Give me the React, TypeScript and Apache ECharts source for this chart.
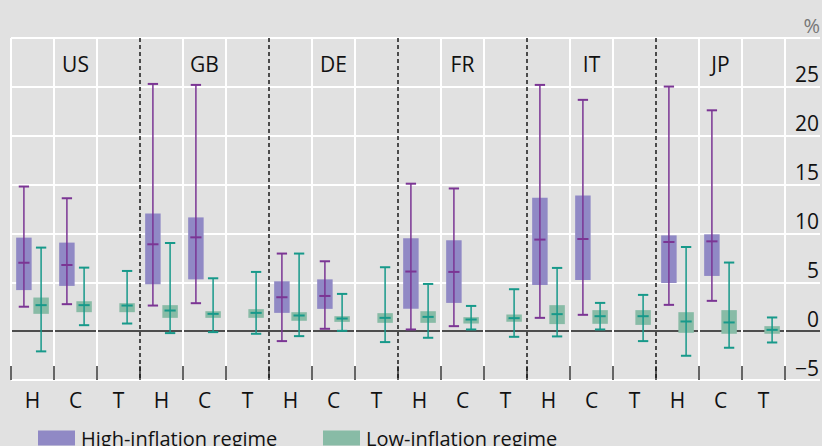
import React, { useEffect, useRef } from "react";
import * as echarts from "echarts";

const countries = ["US", "GB", "DE", "FR", "IT", "JP"];
const regimes = ["H", "C", "T"];
const categories = countries.flatMap(() => regimes);

// [category index, low whisker, box bottom, median, box top, high whisker]
const highInflation = [
  [0, 2.5, 4.2, 7.0, 9.57, 14.8],
  [1, 2.76, 4.63, 6.77, 9.06, 13.6],
  [3, 2.62, 4.8, 8.89, 12.05, 25.3],
  [4, 2.86, 5.3, 9.6, 11.64, 25.2],
  [6, -1.02, 1.87, 3.47, 5.1, 7.94],
  [7, 0.24, 2.28, 3.6, 5.3, 7.15],
  [9, 0.17, 2.28, 6.1, 9.5, 15.09],
  [10, 0.51, 2.89, 6.06, 9.3, 14.6],
  [12, 1.36, 4.73, 9.37, 13.66, 25.2],
  [13, 1.67, 5.24, 9.43, 13.89, 23.67],
  [15, 2.69, 4.93, 9.12, 9.8, 25.03],
  [16, 3.1, 5.65, 9.19, 9.91, 22.6],
];

const lowInflation = [
  [0, -2.07, 1.77, 2.66, 3.44, 8.55],
  [1, 0.61, 1.94, 2.66, 3.06, 6.5],
  [2, 0.78, 1.94, 2.62, 2.86, 6.16],
  [3, -0.2, 1.36, 2.11, 2.66, 9.02],
  [4, -0.1, 1.36, 1.77, 2.04, 5.41],
  [5, -0.27, 1.36, 1.87, 2.25, 6.06],
  [6, -0.51, 1.06, 1.6, 1.94, 7.94],
  [7, 0.03, 0.95, 1.29, 1.53, 3.81],
  [8, -1.12, 0.85, 1.36, 1.84, 6.54],
  [9, -0.68, 0.85, 1.46, 2.04, 4.83],
  [10, 0.17, 0.78, 1.19, 1.43, 2.58],
  [11, -0.58, 0.95, 1.33, 1.7, 4.29],
  [12, -0.54, 0.72, 1.74, 2.66, 6.47],
  [13, 0.17, 0.75, 1.53, 2.15, 2.89],
  [14, -1.02, 0.64, 1.53, 2.15, 3.71],
  [15, -2.52, -0.17, 0.99, 1.94, 8.61],
  [16, -1.7, -0.27, 0.89, 2.15, 7.02],
  [17, -1.16, -0.27, 0.13, 0.51, 1.4],
];

const countryStarts = countries.map((_, i) => [i * regimes.length, 0]).slice(1);

const FONT = "'Open Sans', sans-serif";
const HIGH_FILL = "#9089c5";
const HIGH_LINE = "#7b3594";
const LOW_FILL = "#88bba6";
const LOW_LINE = "#17998a";
const BG = "#e1e1e1";

const makeBoxRenderer =
  (offset: number, fill: string, stroke: string) => (params: any, api: any) => {
    const idx = api.value(0);
    const band = api.size([1, 0])[0];
    const cx = api.coord([idx, 0])[0] + offset * band;
    const y = (k: number) => api.coord([idx, api.value(k)])[1];
    const yLow = y(1);
    const yQ1 = y(2);
    const yMed = y(3);
    const yQ3 = y(4);
    const yHigh = y(5);
    const bw = band * 0.36;
    const cap = band * 0.12;
    const med = band * 0.13;
    return {
      type: "group",
      children: [
        {
          type: "rect",
          shape: { x: cx - bw / 2, y: yQ3, width: bw, height: yQ1 - yQ3 },
          style: { fill },
        },
        {
          type: "line",
          shape: { x1: cx, y1: yHigh, x2: cx, y2: yLow },
          style: { stroke, lineWidth: 1.5 },
        },
        {
          type: "line",
          shape: { x1: cx - cap, y1: yHigh, x2: cx + cap, y2: yHigh },
          style: { stroke, lineWidth: 2 },
        },
        {
          type: "line",
          shape: { x1: cx - cap, y1: yLow, x2: cx + cap, y2: yLow },
          style: { stroke, lineWidth: 2 },
        },
        {
          type: "line",
          shape: { x1: cx - med, y1: yMed, x2: cx + med, y2: yMed },
          style: { stroke, lineWidth: 2 },
        },
      ],
    };
  };

const ySplitColors = ["#ffffff", "#4d4d4d", "#ffffff", "#ffffff", "#ffffff", "#ffffff", "#ffffff", "#ffffff"];

export default function App() {
  const ref = useRef<HTMLDivElement>(null);
  useEffect(() => {
    document.body.style.margin = "0";
    const chart = echarts.init(ref.current!, null, { renderer: "svg" });
    const legendBase = {
      top: 422,
      itemWidth: 37,
      itemHeight: 15,
      icon: "rect",
      selectedMode: false,
      textStyle: { fontSize: 20, lineHeight: 22, color: "#111", fontFamily: FONT, padding: [0, 0, 0, 1] },
    };
    const option: any = {
      animation: false,
      backgroundColor: BG,
      textStyle: { fontFamily: FONT },
      grid: [
        { left: 11, right: 37, top: 38, bottom: 66 },
        { left: 785, right: 0, top: 38, bottom: 66 },
      ],
      legend: [
        {
          ...legendBase,
          left: 33,
          data: [{ name: "High-inflation regime", itemStyle: { color: HIGH_FILL } }],
        },
        {
          ...legendBase,
          left: 318,
          data: [{ name: "Low-inflation regime", itemStyle: { color: LOW_FILL } }],
        },
      ],
      xAxis: [
        {
          type: "category",
          gridIndex: 0,
          data: categories,
          position: "bottom",
          axisLine: { show: false, onZero: false },
          axisTick: {
            show: true,
            inside: true,
            length: 14,
            interval: 0,
            lineStyle: { color: "#333", width: 1.5 },
          },
          axisLabel: { interval: 0, margin: 9, fontSize: 21, color: "#111", fontFamily: FONT },
          splitLine: {
            show: true,
            interval: (i: number) => i % regimes.length !== 0 || i === 0,
            lineStyle: { color: "#ffffff", width: 2 },
          },
        },
        {
          type: "category",
          gridIndex: 0,
          data: countries,
          position: "top",
          axisLine: { show: false, onZero: false },
          axisTick: { show: false },
          axisLabel: { inside: true, margin: 15, fontSize: 21, color: "#111", fontFamily: FONT },
          splitLine: { show: false },
        },
        {
          type: "value",
          gridIndex: 1,
          show: false,
          min: 0,
          max: 1,
        },
      ],
      yAxis: [
        {
          type: "value",
          gridIndex: 0,
          min: -5,
          max: 30,
          interval: 5,
          axisLine: { show: false, onZero: false },
          axisTick: { show: false },
          axisLabel: { show: false },
          splitLine: { show: true, lineStyle: { color: ySplitColors, width: 2 } },
        },
        {
          type: "value",
          gridIndex: 1,
          min: -5,
          max: 30,
          interval: 5,
          position: "right",
          name: "%",
          nameLocation: "end",
          nameGap: 3,
          nameTextStyle: {
            fontSize: 20,
            color: "#777",
            align: "right",
            verticalAlign: "bottom",
            fontFamily: FONT,
          },
          axisLine: { show: false, onZero: false },
          axisTick: { show: false },
          axisLabel: {
            inside: true,
            margin: 1,
            fontSize: 21,
            color: "#111",
            verticalAlign: "bottom",
            padding: [0, 0, 2, 0],
            fontFamily: FONT,
            formatter: (v: number) => (v === 30 ? "" : v < 0 ? "\u2212" + Math.abs(v) : String(v)),
          },
          splitLine: { show: true, lineStyle: { color: ySplitColors, width: 2 } },
        },
      ],
      series: [
        {
          type: "custom",
          name: "country-separators",
          xAxisIndex: 0,
          yAxisIndex: 0,
          silent: true,
          data: countryStarts,
          encode: { x: 0, y: 1 },
          renderItem: (params: any, api: any) => {
            const idx = api.value(0);
            const band = api.size([1, 0])[0];
            const x = api.coord([idx, 0])[0] - band / 2;
            const cs = params.coordSys;
            return {
              type: "line",
              shape: { x1: x, y1: cs.y, x2: x, y2: cs.y + cs.height },
              style: { stroke: "#1a1a1a", lineWidth: 1.5, lineDash: [4, 3] },
            };
          },
        },
        {
          type: "custom",
          name: "High-inflation regime",
          xAxisIndex: 0,
          yAxisIndex: 0,
          itemStyle: { color: HIGH_FILL },
          data: highInflation,
          encode: { x: 0, y: [1, 2, 3, 4, 5] },
          renderItem: makeBoxRenderer(-0.2, HIGH_FILL, HIGH_LINE),
        },
        {
          type: "custom",
          name: "Low-inflation regime",
          xAxisIndex: 0,
          yAxisIndex: 0,
          itemStyle: { color: LOW_FILL },
          data: lowInflation,
          encode: { x: 0, y: [1, 2, 3, 4, 5] },
          renderItem: makeBoxRenderer(0.2, LOW_FILL, LOW_LINE),
        },
      ],
    };
    chart.setOption(option);
    return () => chart.dispose();
  }, []);
  return <div ref={ref} style={{ width: 822, height: 446 }} />;
}
